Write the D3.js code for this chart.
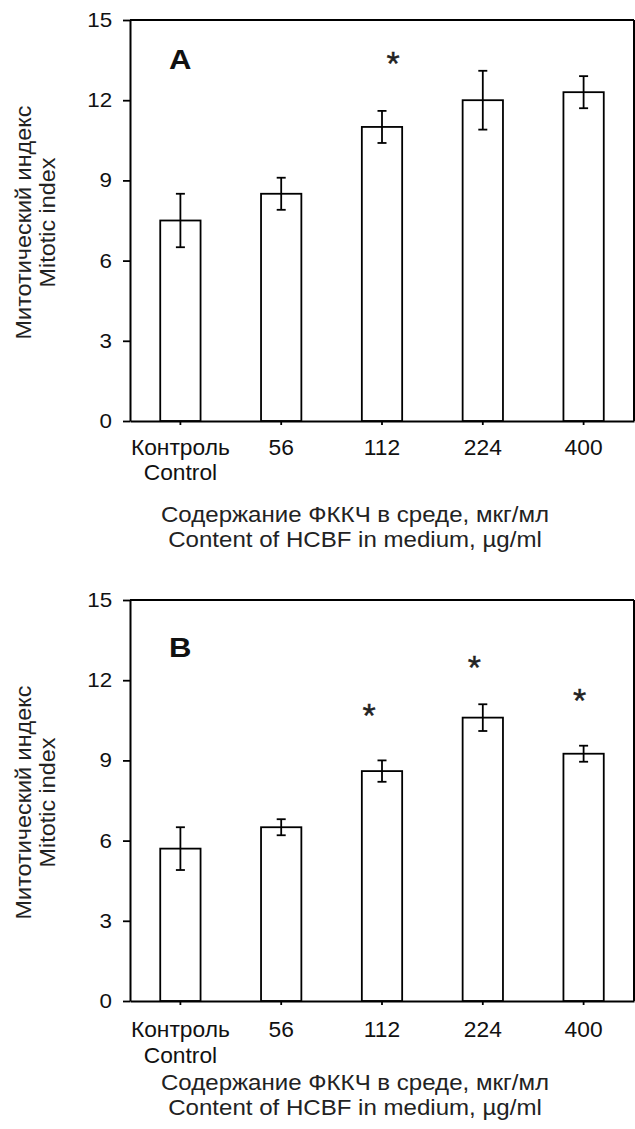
<!DOCTYPE html>
<html>
<head>
<meta charset="utf-8">
<script src="https://cdn.jsdelivr.net/npm/d3@7"></script>
<style>
  body { margin: 0; background: #fff; }
  svg { display: block; font-family: "Liberation Sans", Arial, sans-serif; }
</style>
</head>
<body>
<div id="chart"></div>
<script>
// данные
var categories = ["Контроль", "56", "112", "224", "400"];
var subLabels = ["Control", "", "", "", ""];
var yTicks = [0, 3, 6, 9, 12, 15];

var valuesA = [7.5, 8.5, 11.0, 12.0, 12.3];
var errorsA = [1.0, 0.6, 0.6, 1.1, 0.6];
var starsA = [null, null, 13.67, null, null];

var valuesB = [5.7, 6.5, 8.6, 10.6, 9.25];
var errorsB = [0.8, 0.3, 0.4, 0.5, 0.3];
var starsB = [null, null, 11.0, 12.8, 11.55];

var yTitle = ["Митотический индекс", "Mitotic index"];
var xTitle = ["Содержание ФККЧ в среде, мкг/мл", "Content of HCBF in medium, µg/ml"];

var svg = d3.select("#chart")
    .append("svg")
    .attr("width", 635)
    .attr("height", 1129);

var panels = [
    { letter: "A", values: valuesA, errors: errorsA, stars: starsA, top: 20,
      letterY: 49, starDx: [0, 0, 11, 0, 0], tickDy: 0, titleDy: [101, 126] },
    { letter: "B", values: valuesB, errors: errorsB, stars: starsB, top: 600,
      letterY: 57, starDx: [0, 0, -13, -8.5, -4], tickDy: 2.5, titleDy: [89, 114] }
];

// шрифт на рисунке немного шире, чем Liberation Sans
function stretch(sx) { return "scale(" + sx + ",1)"; }

panels.forEach(function(p) {
    var left = 130, right = 634, bottom = p.top + 401;

    var x = d3.scaleBand().domain(categories).range([left, right])
        .paddingInner(0.6).paddingOuter(0.3);
    var y = d3.scaleLinear().domain([0, 15]).range([bottom, p.top]);

    var g = svg.append("g");

    // рамка сверху и справа
    g.append("line")
        .attr("x1", left).attr("x2", right)
        .attr("y1", y(15)).attr("y2", y(15))
        .attr("stroke", "#000").attr("stroke-width", 2);
    g.append("line")
        .attr("x1", right).attr("x2", right)
        .attr("y1", y(15)).attr("y2", y(0))
        .attr("stroke", "#000").attr("stroke-width", 2);

    // столбики
    g.selectAll("rect.bar")
        .data(p.values)
        .enter().append("rect")
        .attr("class", "bar")
        .attr("x", function(d, i) { return x(categories[i]); })
        .attr("y", function(d) { return y(d); })
        .attr("width", x.bandwidth())
        .attr("height", function(d) { return y(0) - y(d); })
        .attr("fill", "#fff")
        .attr("stroke", "#000")
        .attr("stroke-width", 1.8);

    // планки погрешностей
    var eb = g.selectAll("g.err")
        .data(p.values)
        .enter().append("g")
        .attr("class", "err")
        .attr("stroke", "#000")
        .attr("stroke-width", 1.8)
        .attr("transform", function(d, i) {
            return "translate(" + (x(categories[i]) + x.bandwidth() / 2) + ",0)";
        });
    eb.append("line")
        .attr("y1", function(d, i) { return y(d - p.errors[i]); })
        .attr("y2", function(d, i) { return y(d + p.errors[i]); });
    eb.append("line")
        .attr("x1", -4.5).attr("x2", 4.5)
        .attr("y1", function(d, i) { return y(d + p.errors[i]); })
        .attr("y2", function(d, i) { return y(d + p.errors[i]); });
    eb.append("line")
        .attr("x1", -4.5).attr("x2", 4.5)
        .attr("y1", function(d, i) { return y(d - p.errors[i]); })
        .attr("y2", function(d, i) { return y(d - p.errors[i]); });

    // звёздочки
    var starSize = 34;
    g.selectAll("text.star")
        .data(p.stars.map(function(s, i) { return { v: s, i: i }; })
            .filter(function(d) { return d.v !== null; }))
        .enter().append("text")
        .attr("class", "star")
        .attr("x", function(d) { return x(categories[d.i]) + x.bandwidth() / 2 + p.starDx[d.i]; })
        .attr("y", function(d) { return y(d.v) + starSize * 0.585; })
        .attr("text-anchor", "middle")
        .attr("font-size", starSize)
        .attr("fill", "#222")
        .attr("stroke", "#222")
        .attr("stroke-width", 0.4)
        .text("*");

    // оси
    var yAxis = d3.axisLeft(y).tickValues(yTicks).tickSize(7).tickSizeOuter(0).tickPadding(9);
    var ya = g.append("g")
        .attr("transform", "translate(" + left + ",0)")
        .call(yAxis);
    ya.selectAll("text")
        .attr("font-size", 20)
        .attr("fill", "#111")
        .attr("font-family", "Liberation Sans, Arial, sans-serif")
        .attr("transform", stretch(1.12));

    var xAxis = d3.axisBottom(x).tickSize(4).tickSizeOuter(0).tickFormat("");
    var xa = g.append("g")
        .attr("transform", "translate(0," + bottom + ")")
        .call(xAxis);

    [ya, xa].forEach(function(a) {
        a.select(".domain").attr("stroke-width", 2);
        a.selectAll(".tick line").attr("stroke-width", 1.8);
    });

    var lab = g.selectAll("text.xlab")
        .data(categories)
        .enter().append("text")
        .attr("class", "xlab")
        .attr("transform", function(d) {
            return "translate(" + (x(d) + x.bandwidth() / 2) + "," + (bottom + 33.5 + p.tickDy) + ") " + stretch(1.06);
        })
        .attr("text-anchor", "middle")
        .attr("font-size", 21.5)
        .attr("fill", "#111");
    lab.append("tspan").attr("x", 0).text(function(d) { return d; });
    lab.append("tspan")
        .attr("x", 0)
        .attr("dy", 26)
        .text(function(d, i) { return subLabels[i]; });

    // подписи осей
    g.selectAll("text.xtitle")
        .data(xTitle)
        .enter().append("text")
        .attr("class", "xtitle")
        .attr("transform", function(d, i) {
            return "translate(355," + (bottom + p.titleDy[i]) + ") " + stretch(1.12);
        })
        .attr("text-anchor", "middle")
        .attr("font-size", 21.5)
        .attr("fill", "#222")
        .text(function(d) { return d; });

    var yc = (p.top + bottom) / 2 + 2;
    g.selectAll("text.ytitle")
        .data(yTitle)
        .enter().append("text")
        .attr("class", "ytitle")
        .attr("transform", function(d, i) {
            return "translate(" + (31 + i * 24) + "," + yc + ") rotate(-90) " + stretch(1.04);
        })
        .attr("text-anchor", "middle")
        .attr("font-size", 22.5)
        .attr("fill", "#222")
        .text(function(d) { return d; });

    g.append("text")
        .attr("transform", "translate(169," + (p.top + p.letterY) + ") " + stretch(1.15))
        .attr("font-size", 27)
        .attr("font-weight", "bold")
        .attr("fill", "#111")
        .text(p.letter);
});
</script>
</body>
</html>
